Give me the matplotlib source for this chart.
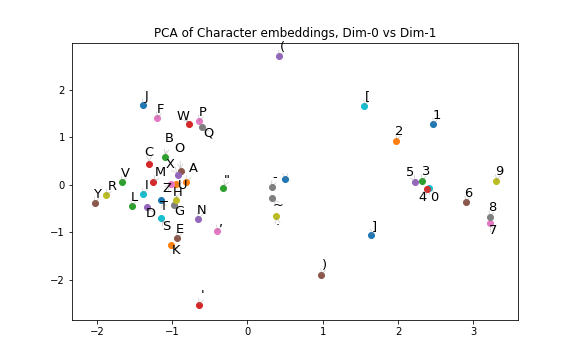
import matplotlib
matplotlib.use("Agg")
import matplotlib.pyplot as plt

# --- character vocabulary (token ids) and their 2-D PCA coordinates ---
chars = [' ', '"', "'", '(', ')', ',', '-', '.',
         '0', '1', '2', '3', '4', '5', '6', '7', '8', '9',
         'A', 'B', 'C', 'D', 'E', 'F', 'G', 'H', 'I', 'J', 'K', 'L', 'M',
         'N', 'O', 'P', 'Q', 'R', 'S', 'T', 'U', 'V', 'W', 'X', 'Y', 'Z',
         '~', '[', ']']
token_ids = [0, 2, 3, 4, 5, 6, 7, 8,
             9, 10, 11, 12, 13, 14, 15, 16, 17, 18,
             21, 22, 23, 24, 25, 26, 27, 28, 29, 30, 31, 32, 33,
             34, 35, 36, 37, 38, 39, 40, 41, 42, 43, 44, 45, 46,
             47, 49, 50]
dim0 = [0.504, -0.320, -0.640, 0.424, 0.983, -0.400, 0.327, 0.384,
        2.406, 2.472, 1.980, 2.318, 2.388, 2.229, 2.898, 3.217, 3.217, 3.306,
        -0.816, -1.096, -1.305, -1.331, -0.932, -1.198, -0.972, -0.953, -1.384,
        -1.384, -1.016, -1.539, -1.251,
        -0.653, -0.887, -0.640, -0.600, -1.880, -1.149, -1.145, -0.949, -1.664,
        -0.773, -0.919, -2.027, -1.020,
        0.331, 1.555, 1.648]
dim1 = [0.113, -0.070, -2.526, 2.702, -1.900, -0.979, -0.049, -0.653,
        -0.079, 1.277, 0.930, 0.079, -0.091, 0.064, -0.368, -0.815, -0.681, 0.085,
        0.064, 0.581, 0.440, -0.462, -1.134, 1.398, -0.436, -0.319, -0.198,
        1.674, -1.262, -0.453, 0.064,
        -0.730, 0.277, 1.334, 1.206, -0.219, -0.709, -0.319, 0.006, 0.049,
        1.277, 0.206, -0.389, 0.006,
        -0.283, 1.660, -1.064]

# label placement (offset in points from the dot), default is up-right
default_offset = (3, 9)
label_offsets = {
    'Q': (6, -6), 'B': (4, 19), 'C': (0, 11), 'O': (-1, 23), 'X': (-8, 10),
    'A': (7, 13), 'M': (7, 9), 'Z': (-4, -4), 'U': (7, -1), 'H': (2, 7),
    'G': (5, -6), 'T': (3, -7), 'D': (4, -7), 'S': (5, -8), 'K': (5, -6),
    'W': (-6, 8), 'R': (6, 9), '~': (6, -7), '.': (1, -6), '0': (6, -9),
    '4': (-5, -9), '5': (-5, 9), '7': (3, -7), '"': (3, 7), ' ': (0, 10),
}

fig, ax = plt.subplots(figsize=(8, 5), dpi=72)
for ch, tid, x, y in zip(chars, token_ids, dim0, dim1):
    ax.scatter(x, y, color=f"C{tid % 10}")
for ch, x, y in zip(chars, dim0, dim1):
    dx, dy = label_offsets.get(ch, default_offset)
    ax.annotate(ch, xy=(x, y), xytext=(dx, dy), textcoords='offset points',
                ha='center', va='center', fontsize=13,
                arrowprops=dict(arrowstyle='->', color='gray', lw=0.5, alpha=0.6,
                                shrinkA=4, shrinkB=2))

ax.set_xlim(-2.33, 3.60)
ax.set_ylim(-2.86, 2.98)
ax.set_title("PCA of Character embeddings, Dim-0 vs Dim-1")
fig.savefig("out.png", dpi=72)
